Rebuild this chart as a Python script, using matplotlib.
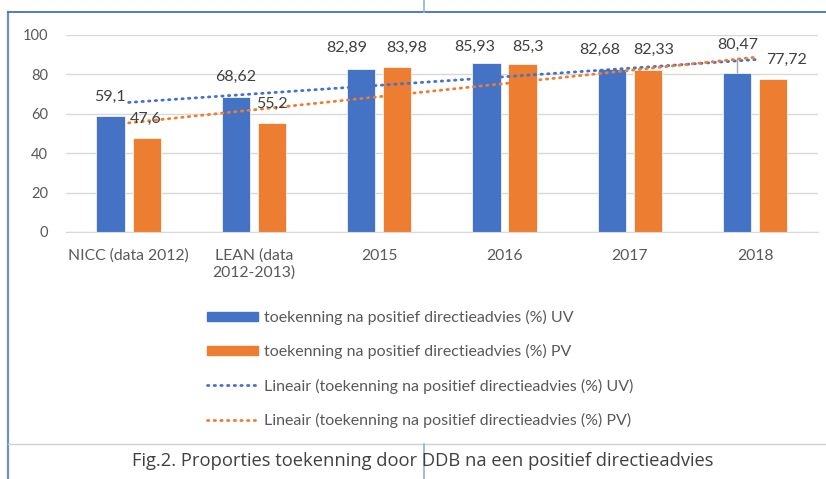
import numpy as np
import matplotlib.pyplot as plt
from matplotlib.patches import Patch
from matplotlib.lines import Line2D

categories = ['NICC (data 2012)', 'LEAN (data\n2012-2013)', '2015', '2016', '2017', '2018']
uv = [59.1, 68.62, 82.89, 85.93, 82.68, 80.47]
pv = [47.6, 55.2, 83.98, 85.3, 82.33, 77.72]
yticks = [0, 20, 40, 60, 80, 100]

lbl_uv = 'toekenning na positief directieadvies (%) UV'
lbl_pv = 'toekenning na positief directieadvies (%) PV'
caption = 'Fig.2. Proporties toekenning door DDB na een positief directieadvies'

# where excel left the data labels (x shift from group centre, y in data units)
uv_label_pos = [(-0.15, 68.5), (-0.145, 78.7), (-0.258, 93.4), (-0.236, 93.9), (-0.24, 92.4), (-0.138, 95.0)]
pv_label_pos = [(0.138, 57.4), (0.144, 65.0), (0.22, 93.4), (0.187, 93.9), (0.19, 92.4), (0.25, 87.3)]

blue = '#4472C4'
orange = '#ED7D31'
txt = '#595959'
plt.rcParams['font.family'] = ['Lato', 'DejaVu Sans']

fig = plt.figure(figsize=(8.26, 4.79), dpi=100)
ax = fig.add_axes([0.0799, 0.5157, 0.9101, 0.4113])

x = np.arange(len(categories))
w = 0.226
off = 0.144
ax.bar(x - off, uv, w, color=blue, edgecolor='white', linewidth=0.5, zorder=2)
ax.bar(x + off, pv, w, color=orange, edgecolor='white', linewidth=0.5, zorder=2)

# linear trendlines, like excel's "Lineair"
dots = (0, (0.5, 1.9))
for vals, c in [(uv, blue), (pv, orange)]:
    k, b = np.polyfit(x + 1, vals, 1)
    ax.plot(x, k * (x + 1) + b, color=c, lw=2, linestyle=dots,
            dash_capstyle='round', zorder=3)

for i, v in enumerate(uv):
    dx, ly = uv_label_pos[i]
    ax.text(i + dx, ly, f'{v:g}'.replace('.', ','), ha='center', va='center',
            fontsize=11.5, color='#404040', zorder=4)
for i, v in enumerate(pv):
    dx, ly = pv_label_pos[i]
    ax.text(i + dx, ly, f'{v:g}'.replace('.', ','), ha='center', va='center',
            fontsize=11.5, color='#404040', zorder=4)
# leader line of the last label
ax.plot([5 - off, 5 - off], [uv[5], 88.3], color='#A6A6A6', lw=1, zorder=1)

ax.set_xlim(-0.5, 5.5)
ax.set_ylim(0, 100)
ax.set_yticks(yticks)
ax.set_xticks(x)
ax.set_xticklabels(categories, fontsize=11.3, color=txt, linespacing=1.25)
ax.tick_params(axis='y', length=0, pad=13, labelsize=10.5, labelcolor=txt)
ax.tick_params(axis='x', length=0, pad=12)
ax.grid(axis='y', color='#D9D9D9', lw=1, zorder=0)
ax.set_axisbelow(True)
for s in ['top', 'right', 'left']:
    ax.spines[s].set_visible(False)
ax.spines['bottom'].set_color('#D9D9D9')

handles = [
    Patch(color=blue),
    Patch(color=orange),
    Line2D([], [], color=blue, lw=2, linestyle=dots, dash_capstyle='round'),
    Line2D([], [], color=orange, lw=2, linestyle=dots, dash_capstyle='round'),
]
labels = [lbl_uv, lbl_pv, 'Lineair (' + lbl_uv + ')', 'Lineair (' + lbl_pv + ')']
leg = fig.legend(handles, labels, loc='upper left', bbox_to_anchor=(0.2506, 0.3528),
                 frameon=False, fontsize=11.5, labelcolor=txt, handlelength=3.2,
                 handleheight=0.55, handletextpad=0.37, labelspacing=1.2,
                 borderaxespad=0, borderpad=0)

# frame and page bits around the chart
fig.add_artist(Line2D([8 / 826, 8 / 826], [0, 1 - 12 / 479], color='#6E8CC8', lw=1.6))
fig.add_artist(Line2D([8 / 826, 1], [1 - 12 / 479, 1 - 12 / 479], color='#4A6FB5', lw=1.3))
fig.add_artist(Line2D([8 / 826, 1], [1 - 444 / 479, 1 - 444 / 479], color='#D0D0D0', lw=1))
fig.add_artist(Line2D([424 / 826, 424 / 826], [1, 1 - 12 / 479], color='#8DB3E2', lw=1.2))
fig.add_artist(Line2D([424 / 826, 424 / 826], [1 - 444 / 479, 0], color='#8DB3E2', lw=1.2))

fig.text(423 / 826, 1 - 461 / 479, caption, ha='center', va='center',
         fontsize=13.2, color='#404040', family=['Open Sans', 'DejaVu Sans'])

plt.savefig('out.png', dpi=100)
